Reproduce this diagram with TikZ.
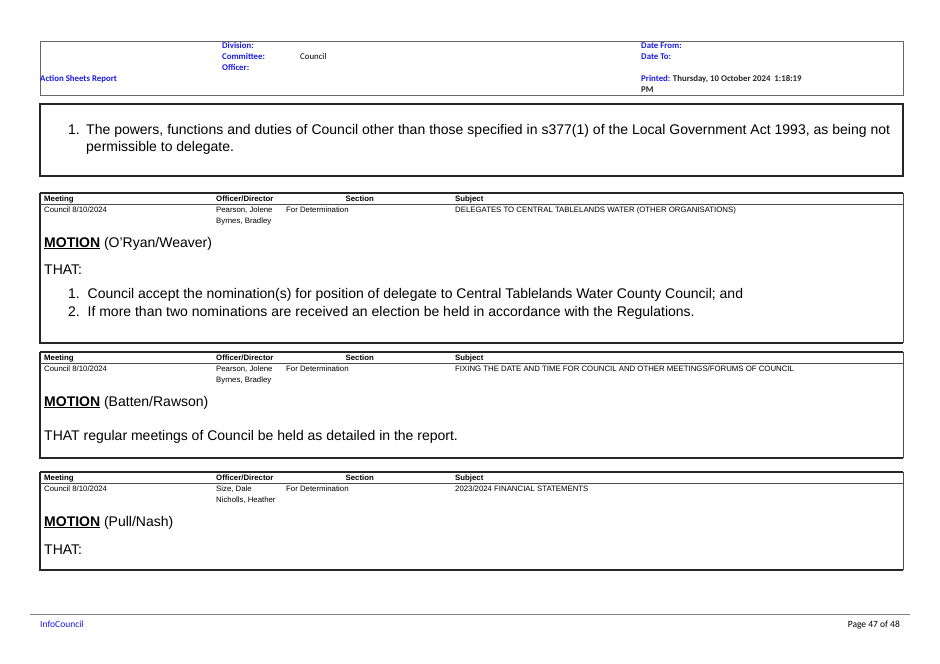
\documentclass[tikz,border=0pt]{standalone}
\usepackage{fontspec}
\setmainfont{Liberation Sans}
\newfontfamily\hdr{Carlito}
\definecolor{hb}{HTML}{1A1AE6}
\begin{document}
\begin{tikzpicture}[x=1pt,y=-1pt,
  lbl/.style={anchor=base west,inner sep=0pt,font=\hdr\bfseries\fontsize{8.8}{10}\selectfont,text=hb},
  sm/.style={anchor=base west,inner sep=0pt,font=\fontsize{7.8}{9}\selectfont},
  smb/.style={sm,font=\bfseries\fontsize{7.8}{9}\selectfont},
  big/.style={anchor=base west,inner sep=0pt,font=\fontsize{14}{16}\selectfont},
  frame/.style={draw=black!85,line width=1.6pt}]
\useasboundingbox (0,0) rectangle (940,664);
% header
\draw[draw=black!60,line width=0.6pt] (40,41) rectangle (903,95);
\node[lbl] (div) at (222,48) {Division:};
\node[lbl] (com) at (222,59) {Committee:};
\node[lbl] (off) at (222,70) {Officer:};
\node[sm,font=\hdr\fontsize{8.8}{10}\selectfont] (cou) at (300,59) {Council};
\node[lbl] (asr) at (40,81) {Action Sheets Report};
\node[lbl] (df) at (641,48) {Date From:};
\node[lbl] (dt) at (641,59) {Date To:};
\node[lbl] (pr) at (641,81) {Printed: \textcolor{black!85}{Thursday, 10 October 2024\ \ 1:18:19}};
\node[lbl,text=black!85] (pm) at (641,92) {PM};
% box 1
\draw[frame] (40,104) rectangle (903,176);
\node[big] (t1num) at (68,134) {1.};
\node[big] (t1a) at (86,134) {\makebox[804pt][s]{The powers, functions and duties of Council other than those specified in s377(1) of the Local Government Act 1993, as being not}};
\node[big] (t1b) at (86,151) {permissible to delegate.};
% blocks
\foreach \top/\bot/\off/\offb/\subj [count=\i] in {
 193/343/{Pearson, Jolene}/{Byrnes, Bradley}/{DELEGATES TO CENTRAL TABLELANDS WATER (OTHER ORGANISATIONS)},
 352/458/{Pearson, Jolene}/{Byrnes, Bradley}/{FIXING THE DATE AND TIME FOR COUNCIL AND OTHER MEETINGS/FORUMS OF COUNCIL},
 472/570/{Size, Dale}/{Nicholls, Heather}/{2023/2024 FINANCIAL STATEMENTS}}{
  \draw[frame] (40,\top) -- (903,\top);
  \draw[frame] (40,\top) -- (40,\bot) -- (903,\bot);
  \draw[black!70,line width=0.6pt] (903,\top) -- (903,\bot);
  \draw[black!70,line width=0.6pt] (40,\top+11) -- (903,\top+11);
  \node[smb] (m\i) at (44,\top+8.5) {Meeting};
  \node[smb] (o\i) at (216,\top+8.5) {Officer/Director};
  \node[smb,anchor=base east] (s\i) at (374,\top+8.5) {Section};
  \node[smb] (sb\i) at (455,\top+8.5) {Subject};
  \node[sm] (mv\i) at (44,\top+19.5) {Council 8/10/2024};
  \node[sm] (ov\i) at (216,\top+19.5) {\off};
  \node[sm] (ow\i) at (216,\top+30.5) {\offb};
  \node[sm] (sv\i) at (286,\top+19.5) {For Determination};
  \node[sm] (bv\i) at (455,\top+19.5) {\subj};
}
\node[big] (mo1) at (44,247) {\underline{\textbf{MOTION}} (O'Ryan/Weaver)};
\node[big] (th1) at (44,274) {THAT:};
\node[big] (i1) at (68,298) {1.\ \ Council accept the nomination(s) for position of delegate to Central Tablelands Water County Council; and};
\node[big] (i2) at (68,316) {2.\ \ If more than two nominations are received an election be held in accordance with the Regulations.};
\node[big] (mo2) at (44,406) {\underline{\textbf{MOTION}} (Batten/Rawson)};
\node[big] (th2) at (44,440) {THAT regular meetings of Council be held as detailed in the report.};
\node[big] (mo3) at (44,526) {\underline{\textbf{MOTION}} (Pull/Nash)};
\node[big] (th3) at (44,554) {THAT:};
% footer
\draw[black!50,line width=0.5pt] (30,614) -- (910,614);
\node[anchor=base west,inner sep=0pt,font=\hdr\fontsize{9.5}{10}\selectfont,text=hb] (ic) at (40,627) {InfoCouncil};
\node[anchor=base east,inner sep=0pt,font=\hdr\fontsize{9.5}{10}\selectfont] (pg) at (900,627) {Page 47 of 48};
\end{tikzpicture}
\end{document}
